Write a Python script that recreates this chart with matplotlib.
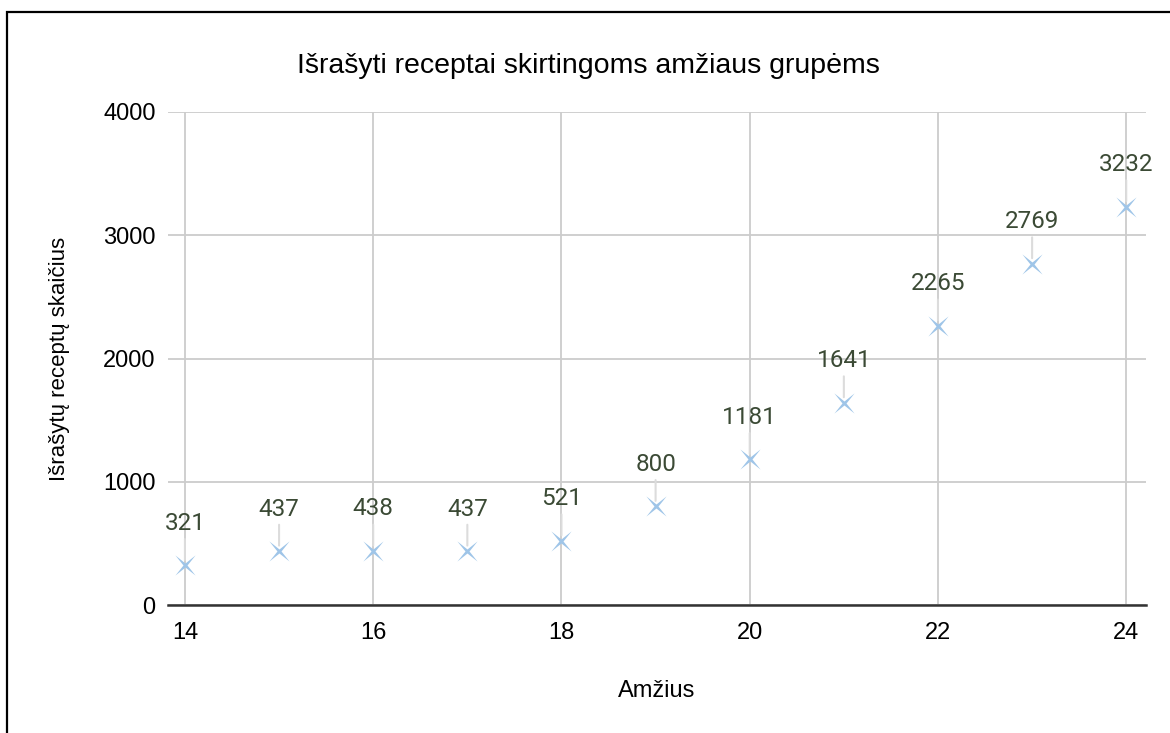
import matplotlib.pyplot as plt
from matplotlib.path import Path
from matplotlib.patches import Rectangle

ages = [14, 15, 16, 17, 18, 19, 20, 21, 22, 23, 24]
counts = [321, 437, 438, 437, 521, 800, 1181, 1641, 2265, 2769, 3232]
x_ticks = [14, 16, 18, 20, 22, 24]
y_ticks = [0, 1000, 2000, 3000, 4000]

title = "Išrašyti receptai skirtingoms amžiaus grupėms"
x_label = "Amžius"
y_label = "Išrašytų receptų skaičius"

plt.rcParams["font.family"] = ["Liberation Sans", "DejaVu Sans"]

# four-pointed sparkle, tips on the diagonals
s, k = 1.0, 0.2
star = Path([(s, s), (k, 0), (s, -s), (0, -k), (-s, -s), (-k, 0),
             (-s, s), (0, k), (s, s)],
            [Path.MOVETO] + [Path.LINETO] * 7 + [Path.CLOSEPOLY])

fig = plt.figure(figsize=(11.7, 7.33), dpi=100)
ax = fig.add_axes([168 / 1170, 1 - 605 / 733, 978 / 1170, 493 / 733])

ax.scatter(ages, counts, marker=star, s=210, color="#9fc5e8",
           linewidths=0, zorder=4)

for a, c in zip(ages, counts):
    ax.annotate(str(c), (a, c), xytext=(0, 22), textcoords="offset points",
                ha="center", va="bottom", fontsize=17.5, color="#3b4a35",
                family=["Roboto", "DejaVu Sans"],
                arrowprops=dict(arrowstyle="-", color="#dcdcdc", lw=1.5,
                                shrinkA=1, shrinkB=4), zorder=3)

ax.set_xlim(13.82, 24.21)
ax.set_ylim(0, 4000)
ax.set_xticks(x_ticks)
ax.set_yticks(y_ticks)
ax.tick_params(length=0, labelsize=17)
ax.tick_params(axis="x", pad=12)
ax.tick_params(axis="y", pad=9)
ax.grid(True, color="#cccccc", lw=1.3)
ax.set_axisbelow(True)
for side in ["top", "right", "left"]:
    ax.spines[side].set_visible(False)
ax.spines["bottom"].set_color("#333333")
ax.spines["bottom"].set_linewidth(1.8)

ax.set_xlabel(x_label, fontsize=17, labelpad=26)
ax.set_ylabel(y_label, fontsize=16, labelpad=24)
fig.text(588 / 1170, 1 - 66 / 733, title, ha="center", va="center",
         fontsize=20.5)

# frame around the chart, open on the right and bottom
fig.patches.append(Rectangle((7 / 1170, -0.1), 1.2, 1 - 12 / 733 + 0.1,
                             transform=fig.transFigure, fill=False,
                             edgecolor="black", lw=1.6))

fig.savefig("out.png", dpi=100)
